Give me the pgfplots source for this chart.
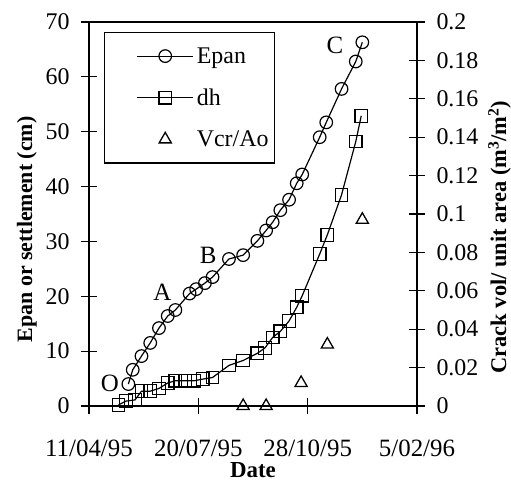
\documentclass[border=0pt]{standalone}
\usepackage{fontspec}
\setmainfont{Liberation Serif}
\usepackage{pgfplots}
\pgfplotsset{compat=1.18}
\begin{document}
\begin{tikzpicture}
\path[use as bounding box] (-89bp,-75bp) rectangle (422bp,406bp);
\begin{axis}[
 scale only axis, width=328bp, height=384bp,
 xmin=0, xmax=300, ymin=0, ymax=70,
 xtick={0,100,200,300}, xticklabels={11/04/95,20/07/95,28/10/95,5/02/96},
 ytick={0,10,...,70},
 xtick pos=bottom, ytick pos=left,
 tick align=center, major tick length=16bp,
 axis line style={line width=1.1pt},
 every tick/.style={line width=1.1pt, black},
 xticklabel style={font=\fontsize{25}{25}\selectfont, yshift=-22bp},
 yticklabel style={font=\fontsize{24}{24}\selectfont, xshift=-8bp},
 /pgf/number format/assume math mode=true,
 xlabel={\textbf{Date}}, ylabel={\textbf{Epan or settlement (cm)}},
 xlabel style={font=\fontsize{23}{23}\selectfont, yshift=1bp},
 ylabel style={font=\fontsize{22}{22}\selectfont, at={(ticklabel cs:0.46)}},
 ylabel shift=2bp,
 legend cell align=left,
 legend style={at={(0.046,0.974)}, anchor=north west, draw=black, line width=1.1pt,
   font=\fontsize{24}{24}\selectfont, row sep=20bp,
   inner xsep=12bp, inner ysep=13bp},
 legend image code/.code={\path (0bp,0bp); \draw[mark repeat=2,mark phase=2] plot coordinates {(20bp,0bp) (48bp,0bp) (76bp,0bp)};},
]
\addplot[black, line width=1.2pt, mark=o, mark size=6.3bp, mark options={line width=1.2pt, fill=white}] coordinates {
(36,4.0) (40,6.6) (48,9.1) (56,11.5) (64,14.2) (72,16.4) (79,17.5) (92,20.5) (98,21.3)
(106,22.4) (113,23.5) (128,26.8) (141,27.5) (154,30.1) (162,32.0) (168,33.5) (175,35.7)
(183,37.6) (190,40.6) (195,42.2) (211,49.0) (217,51.7) (231,57.8) (244,62.8) (250,66.3)};
\addlegendentry{\hspace*{1bp}Epan}
\addplot[black, line width=1.2pt, mark=square, mark size=6.3bp, mark options={line width=1.2pt, fill=white}] coordinates {
(27,0.2) (34,0.9) (42,1.1) (48,2.7) (56,2.7) (64,3.2) (72,4.2) (79,4.6) (88,4.6) (96,4.6)
(104,4.9) (113,5.2) (128,7.4) (141,8.3) (154,9.6) (161,10.6) (168,12.5) (175,13.6)
(183,15.5) (190,18.0) (195,20.1) (211,27.7) (218,31.2) (231,38.5) (244,48.2) (249,52.9)};
\addlegendentry{\hspace*{1bp}dh}
\addlegendimage{only marks, black, mark=triangle, mark size=7bp, mark options={line width=1.3pt}}
\addlegendentry{\hspace*{1bp}Vcr/Ao\hspace*{-8bp}}
\node[font=\fontsize{25}{25}\selectfont] at (axis cs:19,4.1) {O};
\node[font=\fontsize{25}{25}\selectfont] at (axis cs:67,20.8) {A};
\node[font=\fontsize{25}{25}\selectfont] at (axis cs:109,27.5) {B};
\node[font=\fontsize{25}{25}\selectfont] at (axis cs:225,65.8) {C};
\end{axis}
\begin{axis}[
 scale only axis, width=328bp, height=384bp,
 xmin=0, xmax=300, ymin=0, ymax=0.2,
 axis x line=none, axis y line*=right,
 ytick={0,0.02,...,0.2},
 yticklabel style={/pgf/number format/fixed, /pgf/number format/precision=2, font=\fontsize{24}{24}\selectfont, xshift=8bp},
 tick align=center, major tick length=16bp,
 axis line style={line width=1.1pt},
 every tick/.style={line width=1.1pt, black},
 /pgf/number format/assume math mode=true,
 ylabel={\textbf{Crack vol/ unit area (m\textsuperscript{3}/m\textsuperscript{2})}},
 ylabel style={font=\fontsize{22.5}{22.5}\selectfont, at={(ticklabel cs:0.44)}},
 ylabel shift=3bp,
]
\addplot[only marks, black, mark=triangle, mark size=7bp, mark options={line width=1.3pt}] coordinates {
(141,0) (162,0) (194,0.012) (218,0.032) (250,0.097)};
\end{axis}
\end{tikzpicture}
\end{document}
